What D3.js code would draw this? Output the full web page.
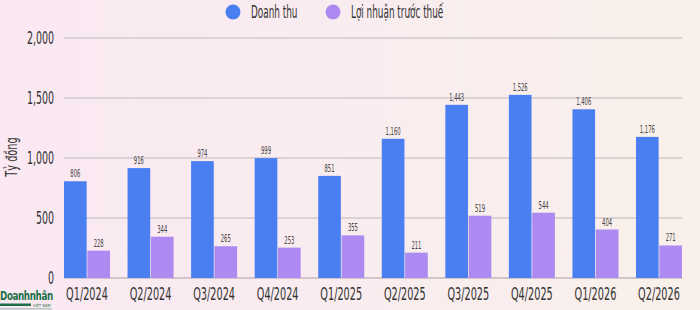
<!DOCTYPE html>
<html><head><meta charset="utf-8">
<script src="https://cdn.jsdelivr.net/npm/d3@7"></script>
<style>
html,body{margin:0;padding:0;}
body{width:700px;height:310px;overflow:hidden;background:linear-gradient(90deg,#fae8f2 0%,#f9edef 55%,#f9f0ea 100%);}
text{font-family:"DejaVu Sans Condensed","DejaVu Sans","Roboto",sans-serif;}
</style></head><body>
<svg id="c" width="700" height="310"></svg>
<script>
const categories = ["Q1/2024","Q2/2024","Q3/2024","Q4/2024","Q1/2025","Q2/2025","Q3/2025","Q4/2025","Q1/2026","Q2/2026"];
const revenue = [806,916,974,999,851,1160,1443,1526,1406,1176];
const profit = [228,344,265,253,355,211,519,544,404,271];
const seriesNames = ["Doanh thu","Lợi nhuận trước thuế"];
const yTicks = [0,500,1000,1500,2000];
const colors = ["#4a7ff2","#ad8af1"];

(function(){
const svg = d3.select("#c");
const mL = 64, mR = 682, mT = 38, mB = 278;
const x = d3.scaleBand().domain(categories).range([mL,mR]).paddingInner(0.276).paddingOuter(0);
const x1 = d3.scaleBand().domain([0,1]).range([0,x.bandwidth()]).paddingInner(0.03);
const y = d3.scaleLinear().domain([0,2000]).range([mB,mT]);

function ctext(g, cx, cy, size, anchor, str, fill, sx){
  return g.append("text").attr("x",cx/sx).attr("y",cy).attr("transform",`scale(${sx},1)`)
    .attr("font-size",size).attr("text-anchor",anchor).attr("fill",fill||"#333").text(str);
}

// grid
svg.append("g").selectAll("line").data(yTicks).join("line")
  .attr("x1",mL).attr("x2",mR)
  .attr("y1",d=>y(d)).attr("y2",d=>y(d))
  .attr("stroke",d=>d===0?"#c4b8bf":"#d2c8cd").attr("stroke-width",1.5);

// y ticks
const fmt = d3.format(",");
const yg = svg.append("g");
yTicks.forEach(t=>{
  ctext(yg, 54, y(t)+6, 17, "end", fmt(t), "#333", 0.62);
});

// y label
svg.append("text").attr("transform",`translate(17,157) rotate(-90) scale(0.68,1)`)
  .attr("text-anchor","middle").attr("font-size",16).attr("fill","#333").text("Tỷ đồng");

// bars
const data = [revenue, profit];
const bg = svg.append("g");
categories.forEach((cat,i)=>{
  data.forEach((s,k)=>{
    const bx = x(cat)+x1(k);
    bg.append("rect").attr("x",bx).attr("width",x1.bandwidth())
      .attr("y",y(s[i])).attr("height",mB - y(s[i]))
      .attr("fill",colors[k]);
    ctext(bg, bx+x1.bandwidth()/2, y(s[i])-4, 11, "middle", fmt(s[i]), "#444", 0.53);
  });
});

// x axis labels
const xg = svg.append("g");
categories.forEach(cat=>{
  ctext(xg, x(cat)+x.bandwidth()/2, 300, 18, "middle", cat, "#333", 0.6);
});

// legend
const legX = [233,333];
seriesNames.forEach((n,k)=>{
  svg.append("circle").attr("cx",legX[k]).attr("cy",12).attr("r",7.5).attr("fill",colors[k]);
  ctext(svg, legX[k]+18, 18, 17, "start", n, "#333", 0.58);
});

// logo
svg.append("text").attr("x",0).attr("y",300).attr("transform","scale(0.78,1)").attr("font-size",12.5).attr("font-weight","bold")
  .attr("fill","#1d7048").attr("letter-spacing","-0.5").text("Doanhnhân");
svg.append("rect").attr("x",0).attr("y",303.5).attr("width",31).attr("height",2.5).attr("fill","#1d7048");
svg.append("text").attr("x",33).attr("y",307).attr("font-size",4).attr("fill","#1d7048").text("VIỆT NAM");
svg.append("rect").attr("x",0).attr("y",308.5).attr("width",52).attr("height",0.8).attr("fill","#7fa895");
})();
</script></body></html>
